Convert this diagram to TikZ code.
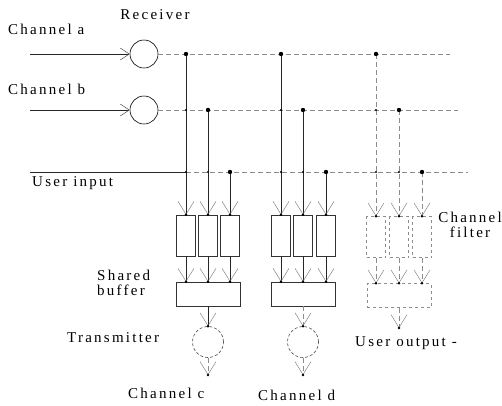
\documentclass[tikz,border=0pt]{standalone}
\usepackage{fontspec}
\setmainfont{Liberation Serif}[LetterSpace=15]
\usetikzlibrary{arrows.meta}
\begin{document}
\begin{tikzpicture}[x=1pt,y=-1pt,
  txt/.style={font=\fontsize{15}{15}\selectfont, inner sep=0pt},
  lbl/.style={txt, anchor=west},
  rcv/.style={circle, draw, line width=0.6pt, minimum size=28pt, inner sep=0pt},
  xmt/.style={circle, draw=black!70, densely dashed, line width=0.6pt, minimum width=28pt, minimum height=31pt, inner sep=0pt},
  filt/.style={rectangle, draw=black!80, line width=0.6pt, minimum width=19pt, minimum height=41pt, inner sep=0pt},
  faintbox/.style={rectangle, draw=black!45, dashed, line width=0.5pt, minimum width=19pt, minimum height=41pt, inner sep=0pt},
  buf/.style={rectangle, draw=black!80, line width=0.6pt, minimum width=64pt, minimum height=24pt, inner sep=0pt},
  faintbuf/.style={rectangle, draw=black!45, dashed, line width=0.5pt, minimum width=64pt, minimum height=24pt, inner sep=0pt},
  wire/.style={line width=0.7pt, black!85},
  faint/.style={line width=0.5pt, black!45, dash pattern=on 5pt off 3pt},
  arr/.style={-{Straight Barb[length=13pt,width=16pt,line width=0.4pt,color=black!55]}},
  inarr/.style={-{Straight Barb[length=9pt,width=12pt,line width=0.5pt,color=black!70]}},
  jdot/.style={fill=black},
]
\useasboundingbox (0,0) rectangle (502,405);
\fill[white] (0,0) rectangle (502,405);

% receivers
\node[rcv] (ra) at (144,54) {};
\node[rcv] (rb) at (144,110) {};
\coordinate (ina) at (30,54);
\coordinate (inb) at (30,110);
\coordinate (inu) at (30,172);
\coordinate (outa) at (450,54);
\coordinate (outb) at (458,110);
\coordinate (outu) at (468,172);

\draw[wire,inarr] (ina) -- (ra.west);
\draw[wire,inarr] (inb) -- (rb.west);
\draw[faint] (ra.east) -- (outa);
\draw[faint] (rb.east) -- (outb);
\draw[wire] (inu) -- (186,172);
\draw[faint] (186,172) -- (outu);

% junctions
\coordinate (j11) at (186,54);
\coordinate (j12) at (208,110);
\coordinate (j13) at (230,172);
\coordinate (j21) at (281,54);
\coordinate (j22) at (303,110);
\coordinate (j23) at (326,172);
\coordinate (j31) at (376,54);
\coordinate (j32) at (399,110);
\coordinate (j33) at (422,172);

% filters
\node[filt] (f11) at (186,235.5) {};
\node[filt] (f12) at (208,235.5) {};
\node[filt] (f13) at (230,235.5) {};
\node[filt] (f21) at (281,235.5) {};
\node[filt] (f22) at (303,235.5) {};
\node[filt] (f23) at (326,235.5) {};
\node[faintbox] (f31) at (376,237) {};
\node[faintbox] (f32) at (399,237) {};
\node[faintbox] (f33) at (422,237) {};

% buffers
\node[buf] (b1) at (208,294) {};
\node[buf] (b2) at (303,294) {};
\node[faintbuf] (b3) at (399,295.5) {};

% transmitters
\node[xmt] (t1) at (208,342) {};
\node[xmt] (t2) at (303,342) {};
\coordinate (c1) at (208,375);
\coordinate (c2) at (303,375);
\coordinate (u3) at (399,328);

% vertical wires to filters
\foreach \g/\n in {11/11,12/12,13/13,21/21,22/22,23/23}{
  \draw[wire,arr] (j\g) -- (f\n.north);
}
\foreach \g in {31,32,33}{
  \draw[faint,arr] (j\g) -- (f\g.north);
}
% filters to buffers
\foreach \n in {11,12,13}{ \draw[wire,arr] (f\n.south) -- (f\n.south |- b1.north); }
\foreach \n in {21,22,23}{ \draw[wire,arr] (f\n.south) -- (f\n.south |- b2.north); }
\foreach \n in {31,32,33}{ \draw[faint,arr] (f\n.south) -- (f\n.south |- b3.north); }
% buffers to transmitters
\draw[wire,arr] (b1.south) -- (t1.north);
\draw[faint,arr] (b2.south) -- (t2.north);
\draw[faint,arr] (t1.south) -- (c1);
\draw[faint,arr] (t2.south) -- (c2);
\draw[faint,arr] (b3.south) -- (u3);

% junction dots
\foreach \p in {j11,j12,j13,j21,j22,j23,j31,j32,j33}{ \fill (\p) circle (2.2pt); }
\foreach \p in {(186,110),(186,172),(208,172),(281,110),(281,172),(303,172),(376,110),(376,172),(399,172)}{ \fill \p circle (1.2pt); }
% arrow tip dots
\foreach \p in {f11.north,f12.north,f13.north,f21.north,f22.north,f23.north,f31.north,f32.north,f33.north,t1.north,t2.north,c1,c2,u3}{ \fill (\p) circle (1.3pt); }
\foreach \n in {11,12,13}{ \fill (f\n.south |- b1.north) circle (1.3pt); }
\foreach \n in {21,22,23}{ \fill (f\n.south |- b2.north) circle (1.3pt); }
\foreach \n in {31,32,33}{ \fill (f\n.south |- b3.north) circle (1.3pt); }

% labels
\node[txt] (lrcv) at (155,15) {Receiver};
\node[lbl] (lca) at (8,29) {Channel a};
\node[lbl] (lcb) at (8,89) {Channel b};
\node[lbl] (lui) at (32,183) {User input};
\node[txt, anchor=west, align=left] (lsb) at (97,283) {Shared\\buffer};
\node[lbl] (ltx) at (67,338) {Transmitter};
\node[lbl] (lcc) at (128,393) {Channel c};
\node[lbl] (lcd) at (258,395) {Channel d};
\node[txt, align=center] (lcf) at (470,225) {Channel\\filter};
\node[lbl] (luo) at (355,343) {User output -};
\end{tikzpicture}
\end{document}
